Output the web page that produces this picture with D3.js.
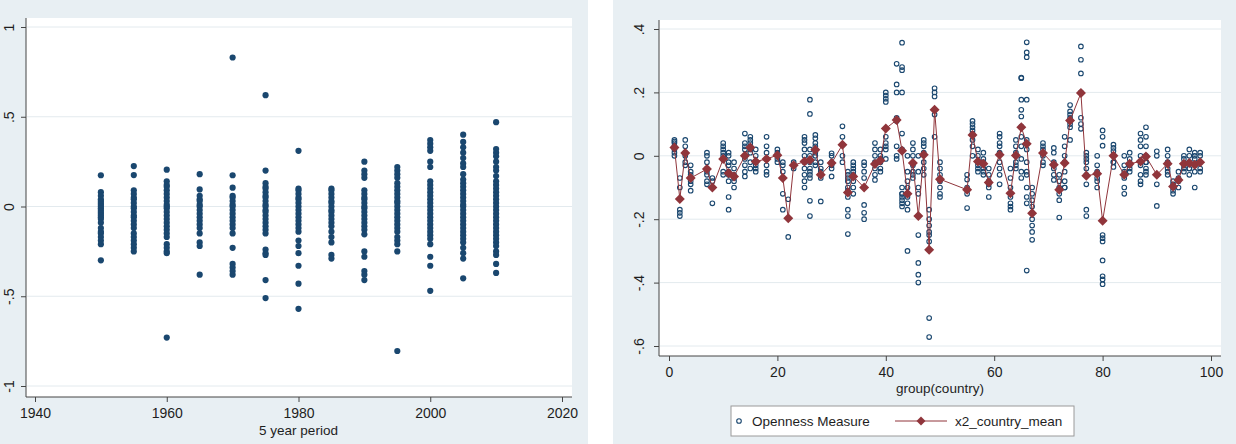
<!DOCTYPE html>
<html>
<head>
<meta charset="utf-8">
<script src="https://cdn.jsdelivr.net/npm/d3@7"></script>
<style>
    body { margin: 0; background: #fff; }
    svg text { font-family: "Liberation Sans", Arial, sans-serif; fill: #1e1e1e; }
</style>
</head>
<body>
<svg id="chart" width="1236" height="444"></svg>
<script>
// ---- left panel data : openness by 5 year period
const periods = [1950, 1955, 1960, 1965, 1970, 1975, 1980, 1985, 1990, 1995, 2000, 2005, 2010];
const periodValues = [
    [0.174, 0.08, 0.06, 0.04, 0.03, 0.02, 0.01, 0.0, -0.01, -0.02, -0.03, -0.04, -0.05, -0.06, -0.07, -0.09, -0.12, -0.14, -0.15, -0.17, -0.19, -0.21, -0.3],
    [0.225, 0.175, 0.09, 0.07, 0.05, 0.04, 0.02, 0.0, -0.01, -0.03, -0.05, -0.06, -0.08, -0.1, -0.12, -0.15, -0.17, -0.19, -0.21, -0.23, -0.25],
    [0.205, 0.14, 0.12, 0.11, 0.09, 0.07, 0.05, 0.03, 0.01, 0.0, -0.01, -0.03, -0.05, -0.07, -0.09, -0.11, -0.13, -0.15, -0.17, -0.21, -0.23, -0.25, -0.26, -0.73],
    [0.18, 0.095, 0.06, 0.04, 0.03, 0.01, 0.0, -0.02, -0.04, -0.06, -0.08, -0.1, -0.12, -0.15, -0.2, -0.22, -0.38],
    [0.83, 0.174, 0.105, 0.06, 0.05, 0.03, 0.01, 0.0, -0.02, -0.04, -0.06, -0.08, -0.1, -0.12, -0.15, -0.23, -0.32, -0.34, -0.36, -0.38],
    [0.62, 0.2, 0.13, 0.11, 0.1, 0.08, 0.06, 0.05, 0.03, 0.01, 0.0, -0.02, -0.03, -0.05, -0.07, -0.09, -0.11, -0.13, -0.15, -0.24, -0.26, -0.27, -0.41, -0.51],
    [0.31, 0.1, 0.09, 0.07, 0.05, 0.04, 0.02, 0.0, -0.02, -0.04, -0.06, -0.08, -0.1, -0.12, -0.14, -0.19, -0.22, -0.26, -0.33, -0.43, -0.57],
    [0.1, 0.09, 0.07, 0.05, 0.03, 0.02, 0.0, -0.02, -0.03, -0.05, -0.07, -0.09, -0.11, -0.14, -0.17, -0.2, -0.27, -0.29],
    [0.25, 0.2, 0.18, 0.16, 0.09, 0.07, 0.05, 0.04, 0.02, 0.0, -0.01, -0.03, -0.05, -0.07, -0.09, -0.11, -0.13, -0.155, -0.25, -0.28, -0.36, -0.38, -0.41],
    [0.22, 0.2, 0.18, 0.16, 0.13, 0.11, 0.09, 0.07, 0.05, 0.03, 0.02, 0.0, -0.02, -0.04, -0.06, -0.08, -0.1, -0.12, -0.14, -0.17, -0.19, -0.21, -0.25, -0.805],
    [0.37, 0.35, 0.33, 0.31, 0.25, 0.22, 0.14, 0.12, 0.1, 0.08, 0.06, 0.04, 0.02, 0.0, -0.02, -0.04, -0.06, -0.08, -0.1, -0.12, -0.14, -0.16, -0.18, -0.21, -0.28, -0.33, -0.47],
    [0.4, 0.36, 0.33, 0.3, 0.27, 0.24, 0.22, 0.18, 0.15, 0.13, 0.11, 0.09, 0.07, 0.05, 0.03, 0.01, 0.0, -0.02, -0.04, -0.06, -0.08, -0.1, -0.12, -0.14, -0.16, -0.18, -0.2, -0.23, -0.26, -0.29, -0.4],
    [0.47, 0.32, 0.3, 0.28, 0.25, 0.22, 0.2, 0.17, 0.14, 0.12, 0.1, 0.08, 0.06, 0.04, 0.02, 0.0, -0.02, -0.04, -0.06, -0.08, -0.1, -0.12, -0.14, -0.16, -0.18, -0.2, -0.22, -0.25, -0.27, -0.32, -0.37]
];

// ---- right panel data : openness by country + country mean
const countryIds = [1, 2, 3, 4, 7, 8, 10, 11, 12, 14, 15, 16, 18, 20, 21, 22, 23, 25, 26, 27, 28, 30, 32, 33, 34, 36, 38, 39, 40, 42, 43, 44, 45, 46, 47, 48, 49, 50,
    55, 56, 57, 58, 59, 61, 63, 64, 65, 66, 67, 69, 71, 72, 73, 74, 76, 77, 79, 80, 82, 84, 85, 87, 88, 90, 92, 93, 94, 95, 96, 97, 98];
const countryMeans = [0.026, -0.136, 0.009, -0.07, -0.042, -0.1, -0.01, -0.055, -0.065, 0.0, 0.026, -0.018, -0.01, 0.002, -0.07, -0.197, -0.03, -0.018, -0.013, 0.019, -0.06, -0.023, 0.035, -0.116, -0.065, -0.1, -0.026, -0.015, 0.086, 0.113, 0.016, -0.12, -0.023, -0.19, 0.003, -0.296, 0.145, -0.074,
    -0.107, 0.066, -0.018, -0.025, -0.084, 0.003, -0.118, 0.001, 0.09, 0.038, -0.181, 0.009, -0.028, -0.107, -0.023, 0.111, 0.198, -0.063, -0.057, -0.205, 0.0, -0.06, -0.025, -0.018, -0.002, -0.06, -0.025, -0.097, -0.076, -0.025, -0.023, -0.028, -0.02];
const countryObs = [
    [0.05, 0.045, 0.04, 0.03, 0.02, 0.01, 0.0],
    [-0.07, -0.1, -0.17, -0.18, -0.19],
    [0.05, 0.03, 0.01, 0.0, -0.02, -0.03],
    [-0.03, -0.05, -0.06, -0.07, -0.08, -0.09, -0.11],
    [0.01, 0.0, -0.02, -0.04, -0.05, -0.06, -0.08, -0.09],
    [-0.07, -0.08, -0.1, -0.15],
    [0.04, 0.03, 0.02, 0.01, 0.0, -0.01, -0.05, -0.06],
    [0.01, 0.0, -0.02, -0.03, -0.05, -0.06, -0.08, -0.13, -0.17],
    [-0.02, -0.04, -0.06, -0.07, -0.08, -0.1],
    [0.07, 0.04, 0.03, 0.02, 0.0, -0.01, -0.03, -0.05, -0.065],
    [0.06, 0.05, 0.04, 0.03, 0.02, 0.01, -0.02, -0.04],
    [0.02, 0.0, -0.02, -0.03, -0.04, -0.05],
    [0.06, 0.03, 0.01, -0.01, -0.03, -0.05, -0.06],
    [0.02, 0.01, 0.0, -0.01, -0.02],
    [-0.02, -0.03, -0.05, -0.07, -0.12, -0.17],
    [-0.137, -0.197, -0.256],
    [-0.02, -0.03, -0.04],
    [0.06, 0.05, 0.04, 0.02, 0.0, -0.02, -0.04, -0.06, -0.08, -0.1],
    [0.177, 0.132, 0.02, 0.0, -0.02, -0.04, -0.05, -0.06, -0.07, -0.142, -0.19],
    [0.066, 0.055, 0.04, 0.03, 0.02, 0.01, 0.0, -0.02, -0.03],
    [-0.02, -0.04, -0.05, -0.06, -0.07, -0.144],
    [0.008, 0.0, -0.02, -0.03, -0.04, -0.065],
    [0.093, 0.06, 0.035, 0.0, -0.02],
    [-0.05, -0.06, -0.07, -0.08, -0.1, -0.11, -0.13, -0.17, -0.19, -0.247],
    [-0.02, -0.03, -0.04, -0.05, -0.06, -0.08, -0.1, -0.12],
    [-0.02, -0.03, -0.05, -0.07, -0.155, -0.18, -0.2],
    [0.04, 0.02, 0.0, -0.02, -0.04, -0.06, -0.076],
    [0.02, 0.0, -0.01, -0.02, -0.04, -0.05],
    [0.2, 0.19, 0.18, 0.17, 0.06, 0.04, 0.03, 0.02, -0.01],
    [0.29, 0.225, 0.2, 0.12, 0.11, 0.03, 0.0, -0.01],
    [0.357, 0.28, 0.27, 0.2, 0.07, 0.02, -0.1, -0.12, -0.12, -0.13, -0.14, -0.15, -0.16],
    [0.0, -0.05, -0.08, -0.1, -0.12, -0.13, -0.15, -0.17, -0.3],
    [0.04, 0.02, 0.0, -0.03, -0.05, -0.06, -0.07],
    [0.0, -0.05, -0.1, -0.12, -0.19, -0.25, -0.338, -0.375, -0.4],
    [0.05, 0.04, 0.03, 0.01, -0.02, -0.04, -0.06],
    [-0.17, -0.2, -0.22, -0.24, -0.25, -0.27, -0.512, -0.572],
    [0.213, 0.2, 0.187, 0.145, 0.13, 0.06],
    [-0.02, -0.04, -0.06, -0.08, -0.1, -0.12, -0.13],
    [-0.06, -0.075, -0.1, -0.12, -0.165],
    [0.11, 0.1, 0.09, 0.08, 0.07, 0.05, 0.03, 0.0],
    [0.02, 0.0, -0.02, -0.03, -0.04, -0.05],
    [0.01, -0.01, -0.02, -0.04, -0.05, -0.06],
    [-0.04, -0.06, -0.08, -0.09, -0.1, -0.13],
    [0.07, 0.06, 0.04, 0.03, 0.01, -0.02, -0.04, -0.06, -0.09],
    [-0.04, -0.07, -0.1, -0.13, -0.15, -0.16, -0.17],
    [0.05, 0.03, 0.01, 0.0, -0.02, -0.03, -0.04],
    [0.247, 0.245, 0.177, 0.145, 0.124, 0.092, 0.06, 0.03, -0.01, -0.05, -0.07],
    [0.358, 0.326, 0.311, 0.177, 0.05, 0.02, -0.02, -0.05, -0.06, -0.1, -0.13, -0.15, -0.362],
    [-0.1, -0.12, -0.14, -0.16, -0.18, -0.2, -0.22, -0.24, -0.265],
    [0.04, 0.03, 0.02, 0.0, -0.02, -0.03],
    [0.025, 0.01, -0.02, -0.04, -0.06, -0.076],
    [-0.06, -0.08, -0.1, -0.12, -0.14, -0.195],
    [0.06, 0.03, 0.0, -0.02, -0.05, -0.08, -0.1, -0.1],
    [0.16, 0.14, 0.13, 0.12, 0.11, 0.1, 0.09, 0.05],
    [0.345, 0.303, 0.26, 0.2, 0.12, 0.1, 0.085],
    [0.01, 0.0, -0.01, -0.02, -0.04, -0.06, -0.09, -0.17, -0.19],
    [0.0, -0.03, -0.05, -0.07, -0.08, -0.1],
    [0.08, 0.06, 0.032, -0.25, -0.26, -0.27, -0.33, -0.38, -0.39, -0.405],
    [0.035, 0.025, 0.015, 0.0, -0.02, -0.035, -0.02],
    [0.0, -0.03, -0.05, -0.07, -0.1, -0.12],
    [0.01, -0.01, -0.03, -0.04, -0.05],
    [0.07, 0.05, 0.03, 0.0, -0.03, -0.06, -0.08, -0.09],
    [0.09, 0.06, 0.03, 0.0, -0.02, -0.04, -0.05, -0.06, -0.02],
    [0.014, 0.0, -0.06, -0.09, -0.158],
    [0.02, 0.0, -0.02, -0.04, -0.05, -0.06],
    [-0.08, -0.09, -0.1, -0.11, -0.12],
    [-0.05, -0.07, -0.08, -0.1],
    [0.0, -0.01, -0.03, -0.04, -0.05],
    [0.02, 0.0, -0.02, -0.04, -0.06, -0.04],
    [0.01, -0.01, -0.03, -0.05, -0.1, 0.0],
    [0.01, 0.0, -0.02, -0.04, -0.05]
];

// ---- ticks & labels
const leftXTicks = [1940, 1960, 1980, 2000, 2020];
const leftYTicks = [-1, -0.5, 0, 0.5, 1];
const rightXTicks = [0, 20, 40, 60, 80, 100];
const rightYTicks = [-0.6, -0.4, -0.2, 0, 0.2, 0.4];
const leftXTitle = "5 year period";
const rightXTitle = "group(country)";
const legendLabels = ["Openness Measure", "x2_country_mean"];

const navy = "#1a476f",
    maroon = "#90353b",
    panelBg = "#e8eff3",
    gridCol = "#e3eaee",
    axisCol = "#444";

const svgSpace = d3.select("#chart");

// stata style numbers : .5, -.2 ...
const stataFmt = (v) => v === 0 ? "0" : String(+v.toFixed(2)).replace("0.", ".");

function drawFrame(box, x, y, xTicks, yTicks, xTitle, yLabelGap, titleY) {
    const g = svgSpace.append("g");

    // plot region
    g.append("rect")
        .attr("x", box.x0).attr("y", box.y0)
        .attr("width", box.x1 - box.x0).attr("height", box.y1 - box.y0)
        .attr("fill", "white");

    // horizontal grid
    g.selectAll(".grid")
        .data(yTicks)
        .enter()
        .append("line")
        .attr("x1", box.x0 + 1).attr("x2", box.x1)
        .attr("y1", (d) => y(d)).attr("y2", (d) => y(d))
        .attr("stroke", gridCol)
        .attr("stroke-width", 1);

    // x axis
    const xAxis = g.append("g")
        .attr("transform", "translate(0," + box.y1 + ")")
        .call(d3.axisBottom(x).tickValues(xTicks).tickSize(5).tickPadding(6).tickFormat(d3.format("d")));
    xAxis.select(".domain").remove();
    xAxis.selectAll("line").attr("stroke", axisCol);
    xAxis.selectAll("text").style("font-size", "14px").attr("fill", "#1e1e1e");

    // y axis, labels turned like stata
    const yAxis = g.append("g")
        .attr("transform", "translate(" + box.x0 + ",0)")
        .call(d3.axisLeft(y).tickValues(yTicks).tickSize(5).tickFormat(stataFmt));
    yAxis.select(".domain").remove();
    yAxis.selectAll("line").attr("stroke", axisCol);
    yAxis.selectAll("text")
        .attr("transform", "rotate(-90)")
        .attr("x", 0)
        .attr("y", -yLabelGap)
        .attr("dy", 0)
        .attr("text-anchor", "middle")
        .attr("fill", "#1e1e1e")
        .style("font-size", "14px");

    // axis lines along the plot region
    g.append("line")
        .attr("x1", box.x0).attr("x2", box.x1)
        .attr("y1", box.y1).attr("y2", box.y1)
        .attr("stroke", axisCol);
    g.append("line")
        .attr("x1", box.x0).attr("x2", box.x0)
        .attr("y1", box.y0).attr("y2", box.y1)
        .attr("stroke", axisCol);

    g.append("text")
        .text(xTitle)
        .attr("x", (x.range()[0] + x.range()[1]) / 2)
        .attr("y", titleY)
        .attr("text-anchor", "middle")
        .style("font-size", "13.5px");

    return g;
}

// ---- panel backgrounds
svgSpace.append("rect").attr("x", 0).attr("y", 0).attr("width", 588).attr("height", 444).attr("fill", panelBg);
svgSpace.append("rect").attr("x", 613).attr("y", 0).attr("width", 623).attr("height", 444).attr("fill", panelBg);

// ---- left : scatter by period
const xLeft = d3.scaleLinear().domain([1940, 2020]).range([35, 562]);
const yLeft = d3.scaleLinear().domain([-1, 1]).range([386, 27]);

const leftG = drawFrame({ x0: 26, x1: 572, y0: 18, y1: 397 }, xLeft, yLeft, leftXTicks, leftYTicks, leftXTitle, 12, 435);

const leftPoints = periods.flatMap((p, i) => periodValues[i].map((v) => ({ p: p, v: v })));
leftG.append("g")
    .selectAll("circle")
    .data(leftPoints)
    .enter()
    .append("circle")
    .attr("cx", (d) => xLeft(d.p))
    .attr("cy", (d) => yLeft(d.v))
    .attr("r", 3.1)
    .attr("fill", navy);

// ---- right : openness by country with mean line
const xRight = d3.scaleLinear().domain([0, 100]).range([669, 1211]);
const yRight = d3.scaleLinear().domain([-0.6, 0.4]).range([346, 29]);

const rightG = drawFrame({ x0: 659, x1: 1221, y0: 20, y1: 356 }, xRight, yRight, rightXTicks, rightYTicks, rightXTitle, 15, 393);

const rightPoints = countryIds.flatMap((c, i) => countryObs[i].map((v) => ({ c: c, v: v })));
rightG.append("g")
    .selectAll("circle")
    .data(rightPoints)
    .enter()
    .append("circle")
    .attr("cx", (d) => xRight(d.c))
    .attr("cy", (d) => yRight(d.v))
    .attr("r", 2.3)
    .attr("fill", "none")
    .attr("stroke", navy)
    .attr("stroke-width", 1.1);

const means = countryIds.map((c, i) => ({ c: c, v: countryMeans[i] }));
const meanLine = d3.line().x((d) => xRight(d.c)).y((d) => yRight(d.v));

rightG.append("path")
    .datum(means)
    .attr("d", meanLine)
    .attr("fill", "none")
    .attr("stroke", maroon)
    .attr("stroke-width", 1);

const diamond = d3.symbol(d3.symbolSquare, 50);
rightG.append("g")
    .selectAll("path")
    .data(means)
    .enter()
    .append("path")
    .attr("d", diamond)
    .attr("transform", (d) => "translate(" + xRight(d.c) + "," + yRight(d.v) + ") rotate(45)")
    .attr("fill", maroon);

// ---- legend
const legend = svgSpace.append("g");
legend.append("rect")
    .attr("x", 731).attr("y", 406)
    .attr("width", 343).attr("height", 30)
    .attr("fill", "white")
    .attr("stroke", "#9a9a9a");

legend.append("circle")
    .attr("cx", 739).attr("cy", 421).attr("r", 2.3)
    .attr("fill", "none").attr("stroke", navy).attr("stroke-width", 1.1);
legend.append("text")
    .text(legendLabels[0])
    .attr("x", 752).attr("y", 426)
    .style("font-size", "13.5px");

legend.append("line")
    .attr("x1", 895).attr("x2", 947).attr("y1", 421).attr("y2", 421)
    .attr("stroke", maroon);
legend.append("path")
    .attr("d", d3.symbol(d3.symbolSquare, 40))
    .attr("transform", "translate(921,421) rotate(45)")
    .attr("fill", maroon);
legend.append("text")
    .text(legendLabels[1])
    .attr("x", 955).attr("y", 426)
    .style("font-size", "13.5px");
</script>
</body>
</html>
